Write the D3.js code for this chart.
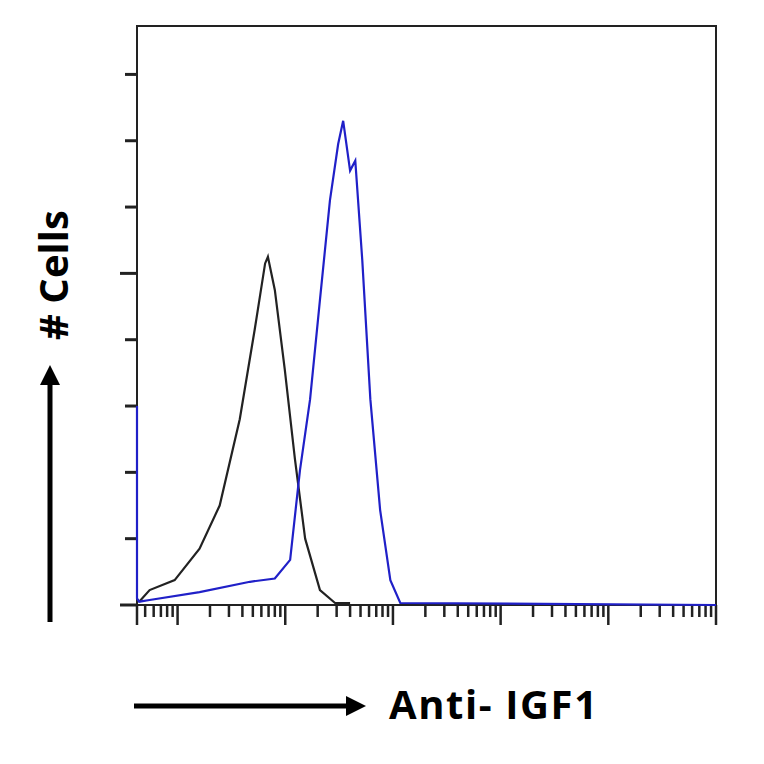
<!DOCTYPE html><html><head><meta charset="utf-8">
<script src="https://cdn.jsdelivr.net/npm/d3@7"></script>
<style>body{margin:0;background:#fff}</style></head><body><svg id="c" width="764" height="764"></svg>
<script>
const blackX=[0.44,0.55,0.94,1.6,2.46,3.78,5.2,6.5,6.9,8.0,9.9,12.3,15.3,21,29,40];
const blackY=[1,4.5,7.5,17,30,56,83,103,105,95,71,44,20,4.5,0.6,0.6];
const blueX=[0.42,0.42,0.44,0.55,1.6,4.7,8.0,11.1,13.7,17,21,26,31,34.5,40,44.7,51.9,61.7,76,94.6,117,100000];
const blueY=[60,2,1,1.5,3.9,7,8,13.6,40.7,62,92,122,139,146,131,134,104,62,28.7,7.5,0.6,0];
const yTicks=d3.range(0,180,20);
const xLabel="Anti- IGF1", yLabel="# Cells";
const svg=d3.select("#c");
const L=137,R=716,T=26,B=605;
const x=d3.scaleLog().domain([0.42,100000]).range([L,R]);
const y=d3.scaleLinear().domain([0,174.6]).range([B,T]);
svg.append("rect").attr("x",L).attr("y",T).attr("width",R-L).attr("height",B-T).attr("fill","none").attr("stroke","#222").attr("stroke-width",2);
svg.selectAll(".yt").data(yTicks).join("line").attr("x1",d=>d%100===0?L-17:L-12).attr("x2",L).attr("y1",d=>y(d)).attr("y2",d=>y(d)).attr("stroke","#222").attr("stroke-width",3);
const xt=[];for(let e=-1;e<5;e++)for(let m=1;m<10;m++){const v=m*Math.pow(10,e);if(v>=0.42&&v<=100000)xt.push(v);} xt.push(100000);
svg.selectAll(".xt").data(xt).join("line").attr("x1",d=>x(d)).attr("x2",d=>x(d)).attr("y1",B).attr("y2",d=>Math.abs(Math.log10(d)%1)<1e-9?B+20:B+12).attr("stroke","#222").attr("stroke-width",2.5);
svg.append("line").attr("x1",L).attr("x2",L).attr("y1",B).attr("y2",B+20).attr("stroke","#222").attr("stroke-width",2.5);
const line=d3.line().x(d=>x(d[0])).y(d=>y(d[1]));
svg.append("path").attr("d",line(d3.zip(blackX,blackY))).attr("fill","none").attr("stroke","#222").attr("stroke-width",2.2);
svg.append("path").attr("d",line(d3.zip(blueX,blueY))).attr("fill","none").attr("stroke","#2020c8").attr("stroke-width",2.2);
svg.append("defs").append("marker").attr("id","ah").attr("viewBox","0 0 10 10").attr("refX",5).attr("refY",5).attr("markerWidth",4).attr("markerHeight",4).attr("orient","auto").append("path").attr("d","M0,0L10,5L0,10z").attr("fill","#000");
svg.append("line").attr("x1",134).attr("x2",356).attr("y1",706).attr("y2",706).attr("stroke","#000").attr("stroke-width",5).attr("marker-end","url(#ah)");
svg.append("line").attr("x1",50).attr("x2",50).attr("y1",622).attr("y2",375).attr("stroke","#000").attr("stroke-width",5).attr("marker-end","url(#ah)");
svg.append("text").attr("x",389).attr("y",719).attr("font-family","Open Sans, sans-serif").attr("font-weight","bold").attr("font-size",40).attr("textLength",208).text(xLabel);
svg.append("text").attr("transform","translate(68,275) rotate(-90)").attr("text-anchor","middle").attr("font-family","Open Sans, sans-serif").attr("font-weight","bold").attr("font-size",40).attr("textLength",130).text(yLabel);
</script></body></html>
